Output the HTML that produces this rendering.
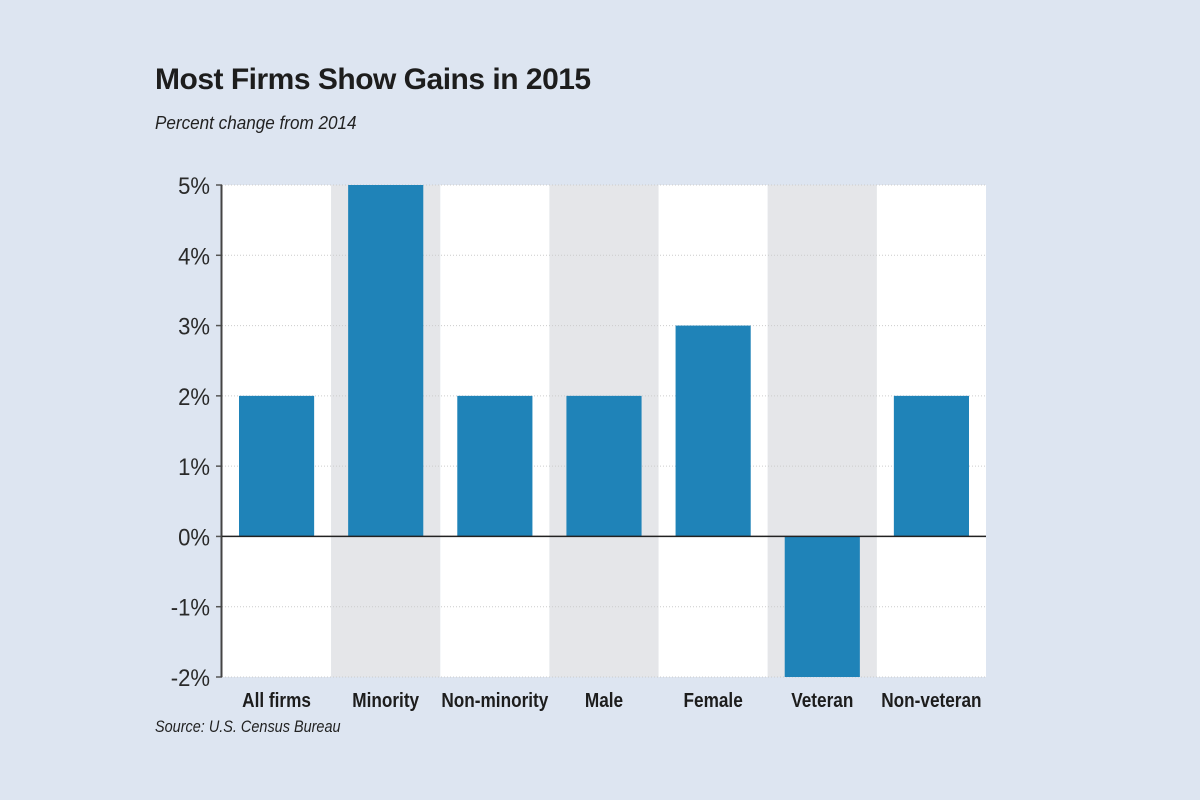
<!DOCTYPE html>
<html><head><meta charset="utf-8"><style>
body{margin:0;width:1200px;height:800px;background:#dde5f1;font-family:"Liberation Sans",sans-serif;overflow:hidden}
#title{position:absolute;left:155px;top:63px;font-size:30px;font-weight:bold;color:#1d1d1d;letter-spacing:-0.5px}
#sub{position:absolute;left:155px;top:113px;font-size:18px;font-style:italic;color:#222;transform:scaleX(0.95);transform-origin:left}
#src{position:absolute;left:155px;top:717px;font-size:17px;font-style:italic;color:#222;transform:scaleX(0.85);transform-origin:left}
svg{position:absolute;left:0;top:0}
</style></head><body>
<div id="title">Most Firms Show Gains in 2015</div>
<div id="sub">Percent change from 2014</div>
<div id="src">Source: U.S. Census Bureau</div>
<svg id="chart" width="1200" height="800"></svg>
<script>
const categories=["All firms","Minority","Non-minority","Male","Female","Veteran","Non-veteran"];
const values=[2,5,2,2,3,-2,2];
const ticks=[5,4,3,2,1,0,-1,-2];
const tickLabels=["5%","4%","3%","2%","1%","0%","-1%","-2%"];
const NS="http://www.w3.org/2000/svg",svg=document.getElementById('chart');
const L=222,R=986,T=185,B=677,yMin=-2,yMax=5;
const y=v=>B-(v-yMin)/(yMax-yMin)*(B-T);
const bw=(R-L)/categories.length;
const x=i=>L+i*bw;
function mk(t,a){const e=document.createElementNS(NS,t);for(const k in a)e.setAttribute(k,a[k]);svg.appendChild(e);return e;}
categories.forEach((c,i)=>{const r=mk('rect',{x:x(i),y:T,width:bw,height:B-T,fill:i%2?'#e5e6e9':'#ffffff'});

});
ticks.forEach((t,i)=>{const g=mk('line',{x1:L,x2:R,y1:y(t),y2:y(t),stroke:'#ccc','stroke-dasharray':'1 2','stroke-width':1});


const tk=mk('line',{x1:L-6,x2:L,y1:y(t),y2:y(t),stroke:'#555','stroke-width':1.5});


const tl=mk('text',{x:L-12,y:y(t)+9,'text-anchor':'end','font-size':24,fill:'#2a2a2a',transform:`translate(${L-12},0) scale(0.92,1) translate(${-(L-12)},0)`});tl.textContent=tickLabels[i];

});
categories.forEach((c,i)=>{const v=values[i];const b=mk('rect',{x:x(i)+17,y:Math.min(y(v),y(0)),width:bw-34,height:Math.abs(y(v)-y(0)),fill:'#1f83b8'});


const lb=mk('text',{x:x(i)+bw/2,y:707,'text-anchor':'middle','font-size':20,'font-weight':'bold',fill:'#1d1d1d',transform:`translate(${x(i)+bw/2},0) scale(0.86,1) translate(${-(x(i)+bw/2)},0)`});lb.textContent=c;

});
const ax=mk('line',{x1:L-0.5,x2:L-0.5,y1:T,y2:B,stroke:'#444','stroke-width':2});


const z=mk('line',{x1:L,x2:R,y1:y(0),y2:y(0),stroke:'#222','stroke-width':1.5});


</script>
</body></html>
